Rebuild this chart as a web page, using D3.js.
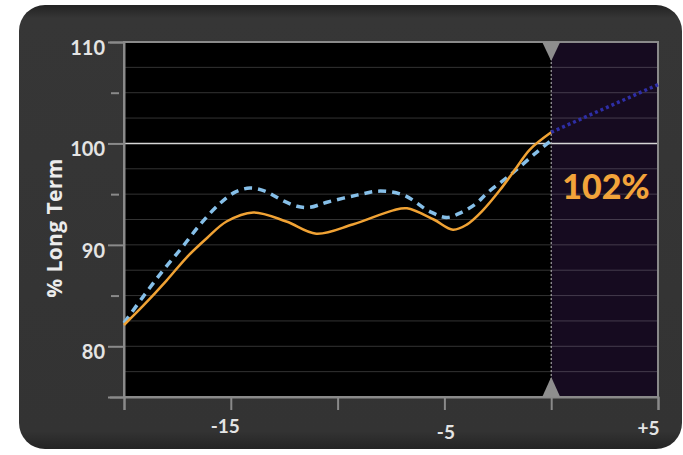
<!DOCTYPE html>
<html>
<head>
<meta charset="utf-8">
<script src="https://cdn.jsdelivr.net/npm/d3@7"></script>
<style>
  html, body { margin: 0; padding: 0; background: #ffffff; }
  svg { display: block; }
</style>
</head>
<body>
<svg id="chart" width="683" height="455"></svg>
<script>
// Months relative to now (0) and the % of long-term level
const actualMonths = [-20, -19.1, -18, -17.05, -16.1, -15.2, -13.95, -12.4, -11, -9.3, -7.4, -6.75, -5.5, -4.6, -3.95, -3.2, -2.4, -1.6, -1, 0];
const actualValues = [82.1, 84.0, 86.5, 88.8, 90.7, 92.3, 93.2, 92.3, 91.1, 92.0, 93.4, 93.6, 92.5, 91.5, 92.0, 93.4, 95.4, 97.7, 99.4, 101.1];

const trendMonths = [-20, -19.1, -18.2, -17.3, -16.4, -15.5, -14.8, -14.1, -13.4, -12.6, -11.9, -11.3, -10.5, -9.1, -8.0, -6.9, -5.7, -4.9, -4.2, -3.5, -3.0, -1.8, -0.7, 0];
const trendValues = [82.3, 84.9, 87.4, 89.7, 92.1, 94.1, 95.2, 95.6, 95.3, 94.4, 93.8, 93.7, 94.2, 94.9, 95.3, 94.9, 93.3, 92.7, 93.2, 94.1, 95.1, 97.1, 99.1, 100.3];

const forecastMonths = [0, 5];
const forecastValues = [101.1, 105.8];

const yTickValues = [75, 80, 85, 90, 95, 100, 105, 110];
const yTickLabels = [80, 90, 100, 110];
const xTickValues = [-20, -15, -10, -5, 0, 5];
const xTickLabels = ["-15", "-5", "+5"];
const xTickLabelValues = [-15, -5, 5];
const currentReading = "102%";
const yTitle = "% Long Term";

const svg = d3.select("#chart");

// Panel background
const defs = svg.append("defs");
const grad = defs.append("linearGradient").attr("id", "panelGrad")
  .attr("x1", 0).attr("y1", 0).attr("x2", 0).attr("y2", 1);
grad.append("stop").attr("offset", "0%").attr("stop-color", "#232323");
grad.append("stop").attr("offset", "3%").attr("stop-color", "#363636");
grad.append("stop").attr("offset", "96%").attr("stop-color", "#333333");
grad.append("stop").attr("offset", "100%").attr("stop-color", "#242424");

svg.append("rect")
  .attr("x", 19).attr("y", 5).attr("width", 663).attr("height", 444)
  .attr("rx", 26).attr("ry", 26)
  .attr("fill", "url(#panelGrad)");

const x = d3.scaleLinear().domain([-20, 5]).range([124, 658]);
const y = d3.scaleLinear().domain([75, 110]).range([397, 42]);

// Plot backgrounds: history (black) and forecast (dark purple)
svg.append("rect")
  .attr("x", x(-20)).attr("y", y(110))
  .attr("width", x(0) - x(-20)).attr("height", y(75) - y(110))
  .attr("fill", "#000000");
svg.append("rect")
  .attr("x", x(0)).attr("y", y(110))
  .attr("width", x(5) - x(0)).attr("height", y(75) - y(110))
  .attr("fill", "#160b20");

// Horizontal grid lines every 2.5
const gridValues = d3.range(77.5, 110, 2.5);
svg.append("g").selectAll("line")
  .data(gridValues.filter(v => v !== 100))
  .join("line")
  .attr("x1", x(-20)).attr("x2", x(5))
  .attr("y1", d => y(d)).attr("y2", d => y(d))
  .attr("stroke", "#ffffff").attr("stroke-opacity", 0.2)
  .attr("stroke-width", 1);

// 100% reference line
svg.append("line")
  .attr("x1", x(-20)).attr("x2", x(5))
  .attr("y1", y(100)).attr("y2", y(100))
  .attr("stroke", "#d6d6d6").attr("stroke-width", 1.5);

// Frame
svg.append("rect")
  .attr("x", x(-20)).attr("y", y(110))
  .attr("width", x(5) - x(-20)).attr("height", y(75) - y(110))
  .attr("fill", "none").attr("stroke", "#8a8a8a").attr("stroke-width", 2);

// Y axis
const yAxis = d3.axisLeft(y)
  .tickValues(yTickValues)
  .tickSize(14)
  .tickFormat(d => yTickLabels.includes(d) ? d : "");
const gy = svg.append("g").attr("transform", `translate(${x(-20)},0)`).call(yAxis);
gy.select(".domain").attr("stroke", "#8a8a8a").attr("stroke-width", 2);
gy.selectAll(".tick line").attr("stroke", "#8a8a8a").attr("stroke-width", 2)
  .attr("x2", d => yTickLabels.includes(d) || d === 75 ? -16 : -13)
  .attr("x1", d => yTickLabels.includes(d) || d === 75 ? 0 : -5);
gy.selectAll(".tick text")
  .attr("x", -19).attr("dy", "0.62em")
  .attr("fill", "#e4e4e4")
  .style("font-family", "Lato, 'Open Sans', sans-serif")
  .style("font-size", "20px").style("font-weight", "700");

// X axis
const xAxis = d3.axisBottom(x)
  .tickValues(xTickValues)
  .tickSize(13)
  .tickFormat(d => {
    const i = xTickLabelValues.indexOf(d);
    return i >= 0 ? xTickLabels[i] : "";
  });
const gx = svg.append("g").attr("transform", `translate(0,${y(75)})`).call(xAxis);
gx.select(".domain").attr("stroke", "#8a8a8a").attr("stroke-width", 2);
gx.selectAll(".tick line").attr("stroke", "#8a8a8a").attr("stroke-width", 2);
const xLabelShift = { "-15": [-6, -2], "-5": [1, 4], "5": [-10, 0] };
gx.selectAll(".tick text")
  .attr("fill", "#e4e4e4")
  .attr("dx", d => (xLabelShift[d] || [0, 0])[0])
  .attr("y", d => 25 + (xLabelShift[d] || [0, 0])[1])
  .style("font-family", "Lato, 'Open Sans', sans-serif")
  .style("font-size", "19px").style("font-weight", "700");

// Now marker: dotted vertical line and triangles
svg.append("line")
  .attr("x1", x(0)).attr("x2", x(0))
  .attr("y1", y(110)).attr("y2", y(75))
  .attr("stroke", "#bdbdbd").attr("stroke-width", 1)
  .attr("stroke-dasharray", "2,2");
svg.append("path")
  .attr("d", `M${x(0) - 9},${y(110)} L${x(0) + 9},${y(110)} L${x(0)},${y(110) + 19} Z`)
  .attr("fill", "#8e8e8e");
svg.append("path")
  .attr("d", `M${x(0) - 9},${y(75)} L${x(0) + 9},${y(75)} L${x(0)},${y(75) - 20} Z`)
  .attr("fill", "#8e8e8e");

// Series lines
const line = d3.line().curve(d3.curveCatmullRom.alpha(0.5))
  .x(d => x(d[0])).y(d => y(d[1]));

svg.append("path")
  .datum(trendMonths.map((m, i) => [m, trendValues[i]]))
  .attr("d", line)
  .attr("fill", "none")
  .attr("stroke", "#86bfe8").attr("stroke-width", 3.5)
  .attr("stroke-dasharray", "8,6");

svg.append("path")
  .datum(actualMonths.map((m, i) => [m, actualValues[i]]))
  .attr("d", line)
  .attr("fill", "none")
  .attr("stroke", "#f0a234").attr("stroke-width", 2.5);

svg.append("path")
  .datum(forecastMonths.map((m, i) => [m, forecastValues[i]]))
  .attr("d", d3.line().x(d => x(d[0])).y(d => y(d[1])))
  .attr("fill", "none")
  .attr("stroke", "#2e2ea6").attr("stroke-width", 3.5)
  .attr("stroke-dasharray", "3,3");

// Current reading
svg.append("text")
  .attr("x", 606).attr("y", 199)
  .attr("text-anchor", "middle")
  .attr("fill", "#f2a33a")
  .style("font-family", "Lato, 'Open Sans', sans-serif")
  .style("font-size", "34px").style("font-weight", "900")
  .text(currentReading);

// Y axis title
svg.append("text")
  .attr("transform", "translate(62,228) rotate(-90)")
  .attr("text-anchor", "middle")
  .attr("fill", "#ececec")
  .style("font-family", "'Open Sans', sans-serif")
  .style("font-size", "21px").style("font-weight", "700")
  .style("letter-spacing", "0.4px")
  .text(yTitle);
</script>
</body>
</html>
